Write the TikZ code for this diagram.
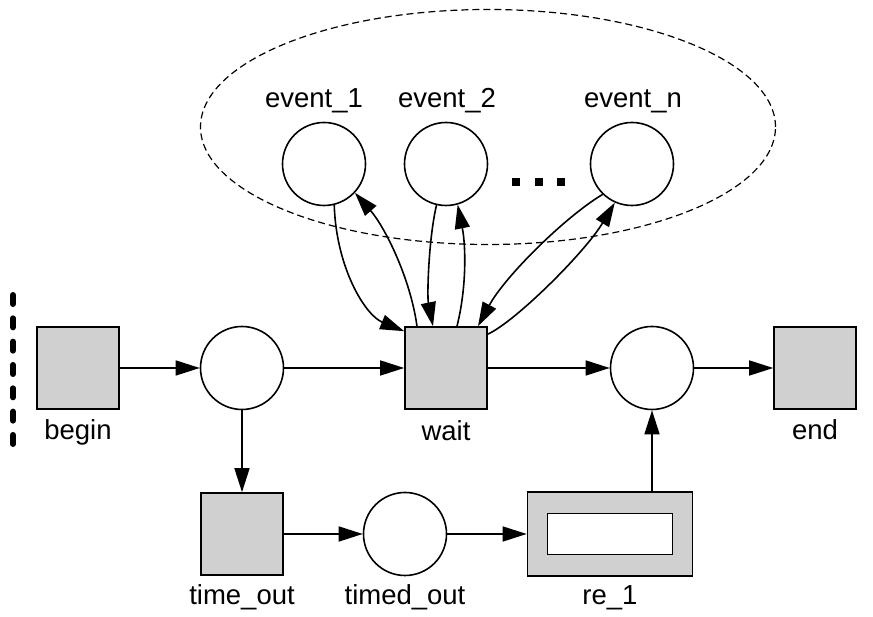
\documentclass[tikz,border=0pt]{standalone}
\usepackage{fontspec}
\setmainfont{Liberation Sans}
\usetikzlibrary{arrows.meta,shapes.geometric}
\definecolor{boxgray}{RGB}{208,208,208}
\begin{document}
\begin{tikzpicture}[x=1pt,y=1pt,
  trans/.style={draw, fill=boxgray, line width=1.6pt, minimum width=82pt, minimum height=82pt, inner sep=0pt},
  place/.style={draw, fill=white, circle, line width=1.6pt, minimum size=83pt, inner sep=0pt},
  lbl/.style={font=\fontsize{27.5}{32}\selectfont, inner sep=0pt, anchor=base},
  arc/.style={line width=1.6pt, -{Triangle[length=24pt,width=15pt]}},
  dot/.style={fill=black, minimum size=8pt, inner sep=0pt},
]
\useasboundingbox (0,0) rectangle (873,617);

% group of events
\node[ellipse, draw, line width=1.2pt, dash pattern=on 7pt off 4pt,
      minimum width=575pt, minimum height=235pt, inner sep=0pt] (grp) at (488,490) {};

% left boundary marker
\draw[line width=6pt, line cap=round, dash pattern=on 9pt off 14.33pt] (13,322) -- (13,173);

% transitions
\node[trans] (b) at (78,249) {};
\node[trans] (w) at (446,249) {};
\node[trans] (e) at (815,249) {};
\node[trans] (to) at (242,83) {};
\node[draw, fill=boxgray, line width=1.6pt, minimum width=165pt, minimum height=84pt, inner sep=0pt] (re) at (610,83) {};
\node[draw, fill=white, line width=1.6pt, minimum width=125pt, minimum height=41pt, inner sep=0pt] (rein) at (re.center) {};

% places
\node[place] (p1) at (242,249) {};
\node[place] (p2) at (652,249) {};
\node[place] (tdo) at (405,83) {};
\node[place] (e1) at (324,453) {};
\node[place] (e2) at (446,453) {};
\node[place] (en) at (632,453) {};

% dots
\node[dot] (d1) at (516,435) {};
\node[dot] (d2) at (539,435) {};
\node[dot] (d3) at (561,435) {};

% labels
\node[lbl] (lb) at (78,177) {begin};
\node[lbl] (lw) at (446,176) {wait};
\node[lbl] (le) at (815,177) {end};
\node[lbl] (lto) at (242,12) {time\_out};
\node[lbl] (ltdo) at (405,12) {timed\_out};
\node[lbl] (lre) at (610,12) {re\_1};
\node[lbl] (le1) at (314,509) {event\_1};
\node[lbl] (le2) at (447,509) {event\_2};
\node[lbl] (len) at (633,509) {event\_n};

% main arcs
\draw[arc] (b.east) -- (p1.west);
\draw[arc] (p1.east) -- (w.west);
\draw[arc] (w.east) -- (p2.west);
\draw[arc] (p2.east) -- (e.west);
\draw[arc] (p1.south) -- (to.north);
\draw[arc] (to.east) -- (tdo.west);
\draw[arc] (tdo.east) -- (re.west);
\draw[arc] (re.north -| p2.south) -- (p2.south);

% event arcs
\draw[arc] (e1.-76) .. controls +(2,-63) and +(-39,16) .. ([yshift=-5pt]w.north west);
\draw[arc] ([xshift=-29pt]w.north) .. controls +(-7,50) and +(29,-33) .. (e1.-43);
\draw[arc] (e2.-103) .. controls +(-8,-34) and +(-6,30) .. ([xshift=-13pt]w.north);
\draw[arc] ([xshift=11pt]w.north) .. controls +(10,40) and +(8,-40) .. (e2.-74);
\draw[arc] (en.-134) .. controls +(-37,-22) and +(27,50) .. ([xshift=32pt]w.north);
\draw[arc] ([yshift=-8pt]w.north east) .. controls +(28,13) and +(-30,-50) .. (en.-114);
\end{tikzpicture}
\end{document}
